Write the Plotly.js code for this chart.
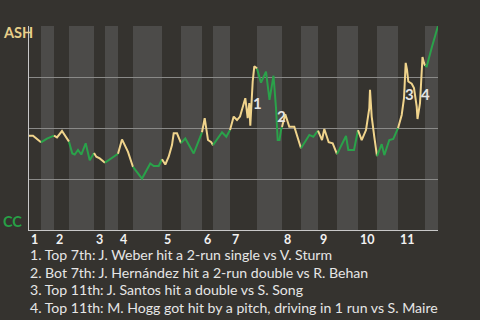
<!DOCTYPE html>
<html>
<head>
<meta charset="utf-8">
<script src="https://cdn.plot.ly/plotly-3.0.1.min.js"></script>
<style>html,body{margin:0;padding:0;background:#35332f;}#chart{width:480px;height:320px;}</style>
</head>
<body>
<div id="chart"></div>
<script>
// Game progress (x) and ASH win probability (y)
const progress = [0,4,12, 18,25, 28,33,36,40, 43.3,45.7,49,52.3,56.7,60.7,65, 67.3,70.7,76, 86.3,89, 93,99,104,
  113,121.3,124.7,129.7,133, 136.3,139.7,143,144.7,148,152, 156.3,164.7,173, 175.7,179,182.3,184, 193,197.3,201,
  204.7,208,211,216.3,218.7,220.3,221.3,223.7,225.3,227.5,228, 232,237,240.5,244.5,247,248.7,250.5,252,253,
  256.3,260.3,265.3,272, 280.3,284.3,289, 293,295.3,299.7,303.7,308, 317,319.3,325,329,
  332.7,337,340.3,341,342.7,345.3,348, 352.7,355.3,360.3,364.3,369,
  372.7,375,376.7,378,379.3,382.7,385,387.7,388.5,391,392.7,393.5,395,396, 397.7,402.7,409];
const ashWinProb = [0.462,0.462,0.430, 0.448,0.463, 0.454,0.485,0.462,0.433, 0.375,0.370,0.392,0.370,0.425,0.342,0.377, 0.359,0.351,0.330, 0.367,0.374, 0.444,0.383,0.309,
  0.252,0.326,0.314,0.314,0.347, 0.321,0.359,0.416,0.474,0.474,0.426, 0.449,0.375,0.479, 0.548,0.441,0.430,0.416, 0.479,0.457,0.490,
  0.556,0.539,0.556,0.646,0.548,0.622,0.511,0.728,0.802,0.794,0.791, 0.722,0.776,0.638,0.756,0.599,0.441,0.441,0.490,0.505,
  0.567,0.506,0.506,0.401, 0.466,0.457,0.487, 0.441,0.495,0.430,0.425,0.372, 0.461,0.392,0.392,0.490,
  0.441,0.490,0.597,0.687,0.556,0.457,0.362, 0.421,0.367,0.441,0.446,0.499,
  0.564,0.646,0.819,0.786,0.728,0.717,0.696,0.605,0.544,0.622,0.777,0.848,0.819,0.805, 0.802,0.893,1.0];
// Half-inning boundaries (top, bottom alternating)
const halfInningStarts = [0,12,25,40,65,76,89,104,133,152,173,184,201,228,253,272,289,308,329,348,369,396,409];
const inningLabels = ["1","2","3","4","5","6","7","8","9","10","11"];
const eventMarks = ["1","2","3","4"];
const eventX = [228,252.5,380,396.5];
const eventY = [0.621,0.557,0.667,0.667];
const notes = [
  "1. Top 7th: J. Weber hit a 2-run single vs V. Sturm",
  "2. Bot 7th: J. Hernández hit a 2-run double vs R. Behan",
  "3. Top 11th: J. Santos hit a double vs S. Song",
  "4. Top 11th: M. Hogg got hit by a pitch, driving in 1 run vs S. Maire"
];
const teamTop = "ASH", teamBottom = "CC";

const YELLOW = "#f0d48c", GREEN = "#2aa24a";
const FONT = "Lato, 'Open Sans', sans-serif";

const traces = [];
const shapes = [];
for (let k = 0; k < halfInningStarts.length - 1; k++) {
  const a = halfInningStarts[k], b = halfInningStarts[k+1];
  const xs = [], ys = [];
  for (let i = 0; i < progress.length; i++) {
    if (progress[i] >= a && progress[i] <= b) { xs.push(progress[i]); ys.push(ashWinProb[i]); }
  }
  traces.push({x: xs, y: ys, type: "scatter", mode: "lines", hoverinfo: "skip", showlegend: false,
    line: {color: k % 2 === 0 ? YELLOW : GREEN, width: 2}});
  if (k % 2 === 1) {
    shapes.push({type: "rect", xref: "x", yref: "paper", x0: a, x1: b, y0: 0, y1: 1,
      fillcolor: "#4c4b49", line: {width: 0}, layer: "below"});
  }
}

const annotations = [];
inningLabels.forEach((t, i) => {
  annotations.push({text: "<b>" + t + "</b>", x: halfInningStarts[2*i], xref: "x", y: 0, yref: "paper",
    xanchor: "left", yanchor: "top", yshift: 0, showarrow: false,
    font: {family: FONT, size: 12.5, color: "#f2f2f2"}});
});
eventMarks.forEach((t, i) => {
  annotations.push({text: "<b>" + t + "</b>", x: eventX[i], y: eventY[i], xref: "x", yref: "y",
    xanchor: "center", yanchor: "middle", showarrow: false,
    font: {family: FONT, size: 15, color: "#e4e4e4"}});
});
notes.forEach((t, i) => {
  annotations.push({text: t, x: 0, xref: "paper", xshift: -1, y: 0, yref: "paper",
    xanchor: "left", yanchor: "middle", yshift: -24.5 - 17.6 * i, showarrow: false,
    font: {family: FONT, size: 14.1, color: "#e6e6e6"}});
});
annotations.push({text: "<b>" + teamTop + "</b>", x: 0, xref: "paper", xshift: -28, y: 1, yref: "paper",
  xanchor: "left", yanchor: "middle", yshift: -6.5, showarrow: false,
  font: {family: FONT, size: 14.5, color: "#e8cf8a"}});
annotations.push({text: "<b>" + teamBottom + "</b>", x: 0, xref: "paper", xshift: -28, y: 0, yref: "paper",
  xanchor: "left", yanchor: "middle", yshift: 9, showarrow: false,
  font: {family: FONT, size: 14.5, color: "#27a046"}});

const layout = {
  width: 480, height: 320,
  margin: {l: 29, r: 42, t: 26, b: 90, pad: 0},
  paper_bgcolor: "#35332f", plot_bgcolor: "#35332f",
  xaxis: {range: [0, 409], showgrid: false, zeroline: false, showticklabels: false, ticks: "",
    showline: true, linecolor: "#c8c8c8", linewidth: 1, fixedrange: true},
  yaxis: {range: [0, 1], tickvals: [0.25, 0.5, 0.75, 1], showgrid: true, gridcolor: "#8a8a88", gridwidth: 1,
    zeroline: false, showticklabels: false, ticks: "", showline: true, linecolor: "#c8c8c8", linewidth: 1, fixedrange: true},
  shapes: shapes,
  annotations: annotations,
  showlegend: false
};
Plotly.newPlot("chart", traces, layout, {displayModeBar: false, staticPlot: true});
</script>
</body>
</html>
